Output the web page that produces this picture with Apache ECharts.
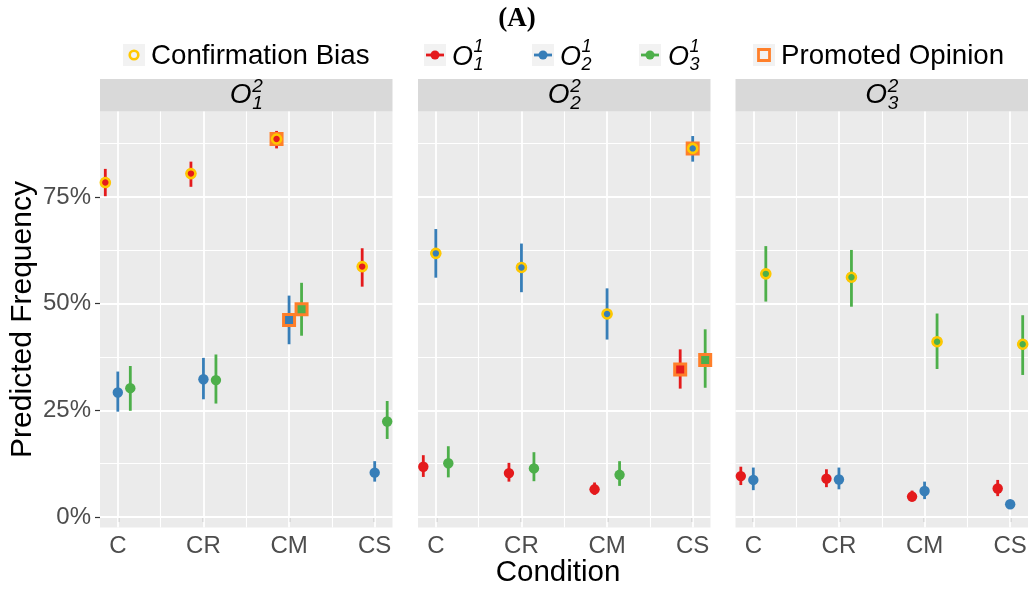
<!DOCTYPE html>
<html><head><meta charset="utf-8">
<script src="https://cdn.jsdelivr.net/npm/echarts@6/dist/echarts.min.js"></script>
<style>html,body{margin:0;padding:0;background:#fff}#chart{width:1031px;height:590px}</style>
</head><body><div id="chart"></div>
<script>
// ---------- data ----------
const conditions = ['C', 'CR', 'CM', 'CS'];
const panelSubs = ['1', '2', '3'];          // facet O_k^2
const opinionSubs = ['1', '2', '3'];        // series O_k^1
const yTicks = [0, 25, 50, 75];
// rows = panels (O_1^2, O_2^2, O_3^2), cols = conditions
const redEst  = [[78.4, 80.5, 88.6, 58.7], [11.8, 10.3, 6.5, 34.6], [9.6, 9.0, 4.8, 6.7]];
const redLow  = [[75.2, 77.4, 86.4, 54.0], [9.4, 8.3, 5.2, 30.1], [7.5, 7.0, 3.6, 4.9]];
const redHigh = [[81.6, 83.3, 90.5, 63.0], [14.5, 12.7, 8.1, 39.3], [11.8, 11.2, 6.2, 8.7]];
const blueEst  = [[29.2, 32.3, 46.2, 10.4], [61.8, 58.5, 47.6, 86.4], [8.7, 8.8, 6.1, 3.0]];
const blueLow  = [[24.7, 27.6, 40.5, 8.3], [56.1, 52.7, 41.6, 83.3], [6.3, 6.5, 4.2, 2.3]];
const blueHigh = [[34.1, 37.3, 51.9, 13.1], [67.5, 64.1, 53.6, 89.3], [11.6, 11.6, 8.3, 3.7]];
const greenEst  = [[30.2, 32.1, 48.7, 22.4], [12.6, 11.4, 9.9, 36.8], [57.0, 56.2, 41.1, 40.5]];
const greenLow  = [[24.9, 26.6, 42.5, 18.3], [9.3, 8.4, 7.3, 30.3], [50.5, 49.3, 34.7, 33.3]];
const greenHigh = [[35.4, 38.1, 54.9, 27.2], [16.6, 15.2, 13.1, 44.0], [63.5, 62.6, 47.7, 47.3]];
const confirmationOpinion = [0, 1, 2];      // per panel: opinion index with confirmation bias
const promoted = [[0, 2, 0], [0, 2, 1], [0, 2, 2], [1, 3, 0], [1, 3, 1], [1, 3, 2]]; // [panel, condition, opinion]

// ---------- styling ----------
const EST = [redEst, blueEst, greenEst];
const LOW = [redLow, blueLow, greenLow];
const HIGH = [redHigh, blueHigh, greenHigh];
const colors = ['#E41A1C', '#377EB8', '#4DAF4A'];
const YELLOW = '#FFC800';
const ORANGE = '#FF7F2A';
const dodge = [-0.146, 0, 0.146];
const FONT = '"Liberation Sans", Arial, sans-serif';
const panelLeft = [100, 418, 735.5];
const panelW = 292.5, panelTop = 111.5, panelH = 416;

const chart = echarts.init(document.getElementById('chart'), null, {renderer: 'canvas'});

const grids = [], xAxes = [], yAxes = [], series = [];
for (let p = 0; p < 3; p++) {
  grids.push({left: panelLeft[p], top: panelTop, width: panelW, height: panelH,
    show: true, backgroundColor: '#EBEBEB', borderWidth: 0, containLabel: false});
  xAxes.push({type: 'value', gridIndex: p, min: 0.792, max: 4.208,
    axisLine: {show: false}, splitLine: {show: false},
    axisTick: {show: true, customValues: [1, 2, 3, 4], length: 5, lineStyle: {color: '#333333', width: 1.2}},
    axisLabel: {show: true, customValues: [1, 2, 3, 4], margin: 7, color: '#4D4D4D', fontSize: 24, fontFamily: FONT,
      formatter: v => conditions[Math.round(v) - 1]}});
  const y = {type: 'value', gridIndex: p, min: -2.45, max: 95.05,
    axisLine: {show: false}, splitLine: {show: false},
    axisTick: {show: p === 0, customValues: yTicks, length: 5, lineStyle: {color: '#333333', width: 1.2}},
    axisLabel: {show: p === 0, customValues: yTicks, margin: 9, color: '#4D4D4D', fontSize: 24, fontFamily: FONT,
      formatter: v => v + '%'}};
  if (p === 0) {
    y.name = 'Predicted Frequency'; y.nameLocation = 'middle'; y.nameGap = 62; y.nameRotate = 90;
    y.nameTextStyle = {fontSize: 30, color: '#000', fontFamily: FONT};
  }
  yAxes.push(y);

  // gridlines
  const gl = [];
  [1, 2, 3, 4].forEach(v => gl.push({xAxis: v, lineStyle: {width: 1.8}}));
  [1.5, 2.5, 3.5].forEach(v => gl.push({xAxis: v, lineStyle: {width: 1.1}}));
  yTicks.forEach(v => gl.push({yAxis: v, lineStyle: {width: 1.8}}));
  yTicks.forEach(v => gl.push({yAxis: v + 12.5, lineStyle: {width: 1.1}}));
  series.push({type: 'line', xAxisIndex: p, yAxisIndex: p, data: [], z: 1, silent: true,
    markLine: {silent: true, z: 1, symbol: 'none', animation: false, label: {show: false},
      lineStyle: {color: '#FFFFFF', type: 'solid'}, emphasis: {disabled: true}, data: gl}});

  // point ranges
  for (let o = 0; o < 3; o++) {
    const col = colors[o];
    series.push({type: 'custom', name: 'O' + opinionSubs[o], xAxisIndex: p, yAxisIndex: p, z: 3, silent: true,
      data: conditions.map((c, i) => [i + 1 + dodge[o], EST[o][p][i], LOW[o][p][i], HIGH[o][p][i]]),
      encode: {x: 0, y: [1, 2, 3]},
      renderItem: (params, api) => {
        const x = api.value(0);
        const pt = api.coord([x, api.value(1)]);
        const lo = api.coord([x, api.value(2)]);
        const hi = api.coord([x, api.value(3)]);
        return {type: 'group', children: [
          {type: 'line', shape: {x1: lo[0], y1: lo[1], x2: hi[0], y2: hi[1]}, style: {stroke: col, lineWidth: 2.8}},
          {type: 'circle', shape: {cx: pt[0], cy: pt[1], r: 5.2}, style: {fill: col}}
        ]};
      }});
  }
  // promoted opinion squares
  series.push({type: 'scatter', xAxisIndex: p, yAxisIndex: p, z: 4, silent: true, symbol: 'rect', symbolSize: 11,
    itemStyle: {borderColor: ORANGE, borderWidth: 3, opacity: 1}, emphasis: {disabled: true},
    data: promoted.filter(d => d[0] === p).map(d => ({value: [d[1] + 1 + dodge[d[2]], EST[d[2]][p][d[1]]],
      itemStyle: {color: colors[d[2]]}}))});
  // confirmation bias rings
  const co = confirmationOpinion[p];
  series.push({type: 'scatter', xAxisIndex: p, yAxisIndex: p, z: 5, silent: true, symbol: 'circle', symbolSize: 9,
    itemStyle: {color: colors[co], borderColor: YELLOW, borderWidth: 2.6, opacity: 1}, emphasis: {disabled: true},
    data: conditions.map((c, i) => [i + 1 + dodge[co], EST[co][p][i]])});
}

// O_sub^sup label builder
function oLabel(x, cy, sub, sup, size, ssize, supDy, subDy) {
  return [
    {type: 'text', x: x, y: cy, style: {text: 'O', font: `italic ${size}px ${FONT}`, fill: '#000', align: 'left', verticalAlign: 'middle'}},
    {type: 'text', x: x + size * 0.80, y: cy + supDy, style: {text: sup, font: `italic ${ssize}px ${FONT}`, fill: '#000', align: 'left', verticalAlign: 'middle'}},
    {type: 'text', x: x + size * 0.80, y: cy + subDy, style: {text: sub, font: `italic ${ssize}px ${FONT}`, fill: '#000', align: 'left', verticalAlign: 'middle'}}
  ];
}

const graphics = [];
// title
graphics.push({type: 'text', x: 517, y: 19, style: {text: '(A)', font: 'bold 27px "Liberation Serif", "Times New Roman", serif', fill: '#000', align: 'center', verticalAlign: 'middle'}});
// strips
for (let p = 0; p < 3; p++) {
  graphics.push({type: 'rect', shape: {x: panelLeft[p], y: 79, width: panelW, height: 32.5}, style: {fill: '#D9D9D9'}});
  graphics.push(...oLabel(panelLeft[p] + panelW / 2 - 16.5, 95, panelSubs[p], '2', 28, 19, -8.5, 8.5));
}
// legend keys
const keyY = 44, keyS = 22;
const keyXs = [123, 424, 532, 639, 753];
keyXs.forEach(kx => graphics.push({type: 'rect', shape: {x: kx, y: keyY, width: keyS, height: keyS}, style: {fill: '#F2F2F2'}}));
graphics.push({type: 'circle', shape: {cx: 134, cy: 55, r: 4.3}, style: {fill: 'none', stroke: YELLOW, lineWidth: 2.6}});
for (let o = 0; o < 3; o++) {
  const cx = keyXs[o + 1] + keyS / 2;
  graphics.push({type: 'line', shape: {x1: cx - 9, y1: 55, x2: cx + 9, y2: 55}, style: {stroke: colors[o], lineWidth: 2.8}});
  graphics.push({type: 'circle', shape: {cx: cx, cy: 55, r: 4.5}, style: {fill: colors[o]}});
}
graphics.push({type: 'rect', shape: {x: 758.5, y: 49.5, width: 11, height: 11}, style: {fill: 'none', stroke: ORANGE, lineWidth: 2.8}});
// legend texts
graphics.push({type: 'text', x: 151, y: 56, style: {text: 'Confirmation Bias', font: `27.7px ${FONT}`, fill: '#000', verticalAlign: 'middle'}});
const legOX = [452, 560, 668];
for (let o = 0; o < 3; o++) graphics.push(...oLabel(legOX[o], 57, opinionSubs[o], '1', 27, 18, -10, 8));
graphics.push({type: 'text', x: 781, y: 56, style: {text: 'Promoted Opinion', font: `27.7px ${FONT}`, fill: '#000', verticalAlign: 'middle'}});
// x axis title
graphics.push({type: 'text', x: 558, y: 573, style: {text: 'Condition', font: `29.5px ${FONT}`, fill: '#000', align: 'center', verticalAlign: 'middle'}});

chart.setOption({
  animation: false,
  grid: grids, xAxis: xAxes, yAxis: yAxes, series: series,
  graphic: {elements: graphics}
});
</script></body></html>
